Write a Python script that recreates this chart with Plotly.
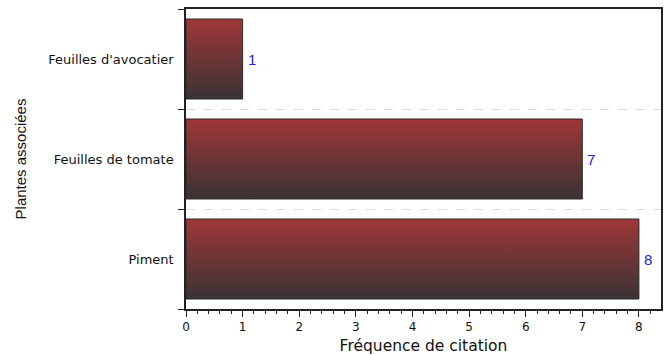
import plotly.graph_objects as go

categories = ["Piment", "Feuilles de tomate", "Feuilles d'avocatier"]
values = [8, 7, 1]
x_ticks = [0, 1, 2, 3, 4, 5, 6, 7, 8]

BAR_HALF = 0.4
fig = go.Figure()
for i, (cat, v) in enumerate(zip(categories, values)):
    fig.add_trace(go.Scatter(
        x=[0, v, v, 0, 0],
        y=[i - BAR_HALF, i - BAR_HALF, i + BAR_HALF, i + BAR_HALF, i - BAR_HALF],
        mode="lines",
        line=dict(color="#2b2b2b", width=1),
        fill="toself",
        fillgradient=dict(type="vertical",
                          colorscale=[[0, "#393334"], [0.5, "#6c3536"], [1, "#9f3738"]]),
        name=cat, showlegend=False, hoverinfo="skip",
    ))

for i, v in enumerate(values):
    fig.add_annotation(
        x=v, y=i, text=str(v), showarrow=False,
        xanchor="left", xshift=3, yanchor="middle",
        font=dict(family="Liberation Sans, Arial", size=15, color="#2323e8"),
    )

fig.update_layout(
    width=665, height=356,
    margin=dict(l=186, r=4, t=9, b=47),
    paper_bgcolor="white", plot_bgcolor="white",
    font=dict(family="DejaVu Sans, Liberation Sans, Arial", color="#111"),
)
fig.update_xaxes(
    automargin=False,
    range=[0, 8.39], tickvals=x_ticks, ticktext=[str(t) for t in x_ticks],
    ticks="outside", ticklen=6, tickwidth=1, tickcolor="#222",
    minor=dict(dtick=0.2, tick0=0, ticks="outside", ticklen=3, tickcolor="#222", showgrid=False),
    showline=True, linecolor="#222", linewidth=1.5, mirror=True,
    showgrid=False, zeroline=False,
    tickfont=dict(size=12, color="#111"),
    title=dict(text="Fréquence de citation", font=dict(size=15.5, color="#111"), standoff=7),
)
fig.update_yaxes(
    automargin=False,
    range=[-0.5, 2.5], tickvals=[0, 1, 2], ticktext=categories,
    ticks="", ticklabelstandoff=8,
    minor=dict(tick0=0.5, dtick=1, ticks="outside", ticklen=6, tickcolor="#222",
               showgrid=True, gridcolor="#dcdcdc", griddash="dash", gridwidth=1),
    showline=True, linecolor="#222", linewidth=1.5, mirror=True,
    showgrid=False, zeroline=False,
    tickfont=dict(size=13, color="#111"),
    title=dict(text="Plantes associées",
               font=dict(family="Liberation Sans, Arial", size=15, color="#111"),
               standoff=18),
)

fig.write_html("out.html", config={"displayModeBar": False},
               post_script="document.body.style.margin='0px';")
